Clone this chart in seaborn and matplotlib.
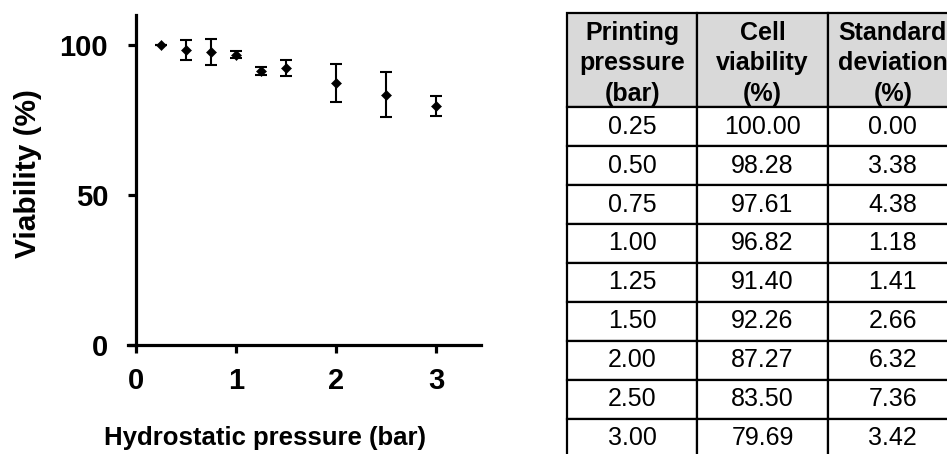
import matplotlib
matplotlib.use('Agg')
import matplotlib.pyplot as plt
import seaborn as sns
import pandas as pd
from matplotlib.patches import Rectangle

pressure = [0.25, 0.50, 0.75, 1.00, 1.25, 1.50, 2.00, 2.50, 3.00]
viability = [100.00, 98.28, 97.61, 96.82, 91.40, 92.26, 87.27, 83.50, 79.69]
std_dev = [0.00, 3.38, 4.38, 1.18, 1.41, 2.66, 6.32, 7.36, 3.42]
header = ['Printing\npressure\n(bar)', 'Cell\nviability\n(%)', 'Standard\ndeviation\n(%)']
xticks = [0, 1, 2, 3]
yticks = [0, 50, 100]

df = pd.DataFrame({'pressure': pressure, 'viability': viability, 'std': std_dev})

sns.set_style('ticks', {'axes.edgecolor': 'black', 'xtick.color': 'black',
                        'ytick.color': 'black', 'text.color': 'black',
                        'axes.labelcolor': 'black'})
plt.rcParams['font.family'] = ['Liberation Sans', 'DejaVu Sans']

fig = plt.figure(figsize=(9.47, 4.54), dpi=100)

# Grafico de dispersao com barras de erro
ax = fig.add_axes([128 / 947, 109 / 454, 353 / 947, 330 / 454])
ax.errorbar(df['pressure'], df['viability'], yerr=df['std'], fmt='none',
            ecolor='black', elinewidth=1.5, capsize=4.5, capthick=1.5)
sns.scatterplot(data=df, x='pressure', y='viability', ax=ax, marker='D',
                s=26, color='black', edgecolor='black', zorder=3)

ax.set_xlim(-0.08, 3.45)
ax.set_ylim(0, 110)
ax.set_xticks(xticks)
ax.set_yticks(yticks)
ax.spines['left'].set_position(('data', 0))
ax.spines['right'].set_visible(False)
ax.spines['top'].set_visible(False)
for s in ['left', 'bottom']:
    ax.spines[s].set_linewidth(2.3)
ax.tick_params(width=2.3, length=6, labelsize=21)
ax.tick_params(axis='x', pad=10)
ax.tick_params(axis='y', pad=14)
for lbl in ax.get_xticklabels() + ax.get_yticklabels():
    lbl.set_fontweight('bold')

ax.set_xlabel('Hydrostatic pressure (bar)', fontsize=18.5, fontweight='bold')
ax.set_ylabel('Viability (%)', fontsize=21.5, fontweight='bold')
ax.xaxis.set_label_coords(0.388, -0.245)
ax.yaxis.set_label_coords(-0.244, 0.518)

# Tabela com os valores
tab = fig.add_axes([567 / 947, -3.5 / 454, 391 / 947, 444.5 / 454])
header_h = 94 / 38.8
n_rows = len(pressure)
tab.set_xlim(0, 3)
tab.set_ylim(header_h + n_rows, 0)
tab.axis('off')

for j, h in enumerate(header):
    tab.add_patch(Rectangle((j, 0), 1, header_h, facecolor='#d9d9d9',
                            edgecolor='black', linewidth=1.6, clip_on=False))
    tab.text(j + 0.5, header_h / 2 + 0.08, h, ha='center', va='center', fontsize=18,
             fontweight='bold', linespacing=1.33, clip_on=False)

for i in range(n_rows):
    row = [f'{pressure[i]:.2f}', f'{viability[i]:.2f}', f'{std_dev[i]:.2f}']
    for j, val in enumerate(row):
        y0 = header_h + i
        tab.add_patch(Rectangle((j, y0), 1, 1, facecolor='white',
                                edgecolor='black', linewidth=1.6, clip_on=False))
        tab.text(j + 0.5, y0 + 0.5, val, ha='center', va='center',
                 fontsize=18, clip_on=False)

fig.savefig('out.png', dpi=100)
